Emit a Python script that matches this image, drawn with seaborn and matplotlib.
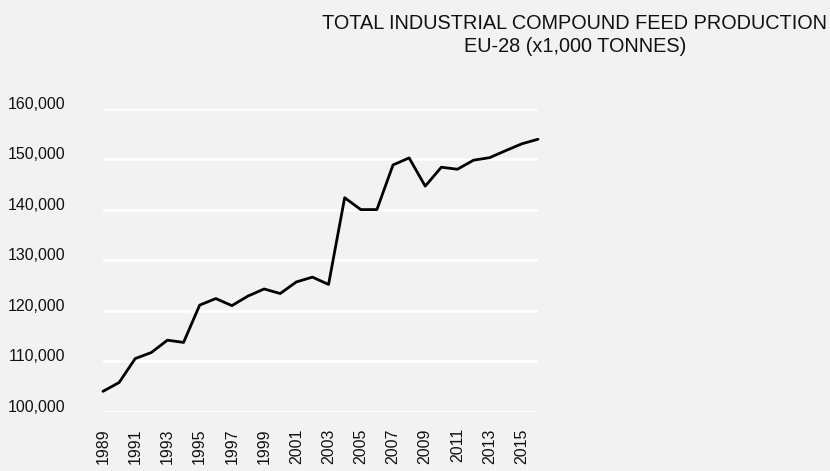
import pandas as pd
import seaborn as sns
from matplotlib import pyplot as plt
from matplotlib.ticker import FuncFormatter

years = list(range(1989, 2017))
production = [104000, 105750, 110500, 111700, 114150, 113700, 121100, 122400,
              121000, 122900, 124300, 123400, 125700, 126650, 125200, 142400,
              140050, 140050, 148900, 150300, 144700, 148450, 148050, 149850,
              150350, 151750, 153100, 154000]
year_ticks = list(range(1989, 2016, 2))
value_ticks = [100000, 110000, 120000, 130000, 140000, 150000, 160000]

df = pd.DataFrame({"year": years, "production": production})

bg = "#f2f2f2"
sns.set_style("whitegrid", {"axes.facecolor": bg, "figure.facecolor": bg,
                            "grid.color": "white", "axes.edgecolor": bg})
plt.rcParams["font.family"] = ["Liberation Sans", "DejaVu Sans"]

fig = plt.figure(figsize=(8.3, 4.71), dpi=100)
ax = fig.add_axes([103 / 830, 1 - 411.5 / 471, 435 / 830, 302.5 / 471])

sns.lineplot(data=df, x="year", y="production", ax=ax, color="black",
             linewidth=2, clip_on=False)

ax.set_xlim(1989, 2016)
ax.set_ylim(100000, 160000)
ax.set_xticks(year_ticks)
ax.set_yticks(value_ticks)
ax.yaxis.set_major_formatter(FuncFormatter(lambda v, p: f"{int(v):,}"))
ax.grid(axis="x", visible=False)
ax.grid(axis="y", color="white", linewidth=1.8)
ax.tick_params(axis="x", labelrotation=90, labelsize=11.5, pad=12, length=0,
               labelcolor="#111111")
ax.tick_params(axis="y", labelsize=11.5, pad=27, length=0, labelcolor="#111111")
for lab in ax.get_yticklabels():
    lab.set_va("baseline")
for s in ax.spines.values():
    s.set_visible(False)
ax.set_xlabel("")
ax.set_ylabel("")

# title block sits top right, above the plot
fig.text(575 / 830, 1 - 14 / 471,
         "TOTAL INDUSTRIAL COMPOUND FEED PRODUCTION\nEU-28 (x1,000 TONNES)",
         ha="center", va="top", fontsize=14.3, linespacing=1.25, color="#111111")

fig.savefig("out.png", dpi=100, facecolor=bg)
